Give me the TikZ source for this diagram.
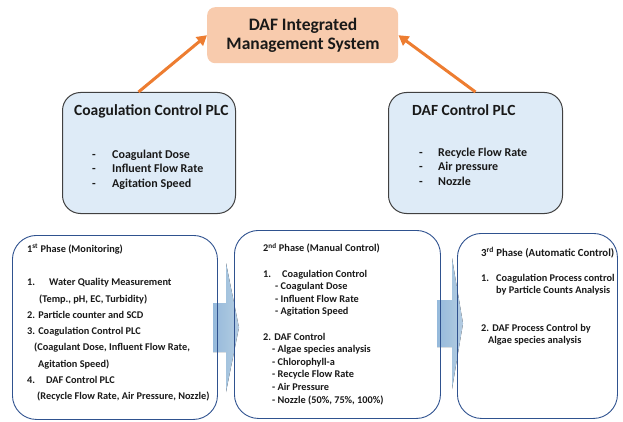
\documentclass[tikz,border=0pt]{standalone}
\usepackage{fontspec}
\setmainfont{Carlito}
\usetikzlibrary{arrows.meta,calc}
\definecolor{peach}{HTML}{F8CBAD}
\definecolor{plcblue}{HTML}{DEEBF7}
\definecolor{plcedge}{HTML}{404040}
\definecolor{phaseedge}{HTML}{2F528F}
\definecolor{orangearr}{HTML}{ED7D31}
\definecolor{arrdark}{HTML}{9DC3E6}
\definecolor{arrlight}{HTML}{BDD7EE}
\newcommand{\topstrut}[1]{\rule{0pt}{#1}}
\tikzset{
  topbox/.style={fill=peach, draw=none, rounded corners=8pt, inner sep=0pt, anchor=north west},
  plcbox/.style={fill=plcblue, draw=plcedge, line width=1pt, rounded corners=18pt, inner sep=0pt, anchor=north west},
  phasebox/.style={draw=phaseedge, line width=0.9pt, rounded corners=24pt, inner sep=0pt, anchor=north west},
  uparrow/.style={draw=orangearr, line width=3pt, -{Triangle[length=10pt,width=11pt]}},
  flowarrow/.style={left color=arrdark, right color=arrlight, draw=none, opacity=0.95},
  txt/.style={font=\bfseries, anchor=base west, inner sep=0pt, align=left, text=black!90},
  blk/.style={font=\bfseries, anchor=north west, inner sep=0pt, align=left, text=black!90}
}
\begin{document}
\begin{tikzpicture}[x=1pt,y=-1pt]
\useasboundingbox (0,0) rectangle (623,422);
% flow arrows (behind boxes)
\fill[flowarrow] (213,303) -- (226,303) -- (226,263) -- (239,327.5) -- (226,392) -- (226,352) -- (213,352) -- cycle;
\fill[flowarrow] (437,300) -- (452,300) -- (452,258) -- (463,323.5) -- (452,389) -- (452,347) -- (437,347) -- cycle;
% top box
\node[topbox, minimum width=191pt, minimum height=56pt] (top) at (207,7) {};
\node[font=\bfseries\fontsize{17.5}{19}\selectfont, align=center, anchor=north, inner sep=0pt, text=black!90] (toptxt) at (303,16) {\topstrut{14pt}DAF Integrated\\Management System};
% PLC boxes
\node[plcbox, minimum width=173pt, minimum height=121pt] (plc1) at (62,92) {};
\node[plcbox, minimum width=174pt, minimum height=121pt] (plc2) at (388,92) {};
\node[txt, font=\bfseries\fontsize{15.5}{18}\selectfont] (plc1t) at (74,116) {Coagulation Control PLC};
\node[blk, font=\bfseries\fontsize{12}{14.5}\selectfont] (plc1d) at (92,148) {\topstrut{10pt}-\\-\\-};
\node[blk, font=\bfseries\fontsize{12}{14.5}\selectfont] (plc1i) at (112,148) {\topstrut{10pt}Coagulant Dose\\Influent Flow Rate\\Agitation Speed};
\node[txt, font=\bfseries\fontsize{15.5}{18}\selectfont] (plc2t) at (412,116) {DAF Control PLC};
\node[blk, font=\bfseries\fontsize{12}{14.5}\selectfont] (plc2d) at (419,146) {\topstrut{10pt}-\\-\\-};
\node[blk, font=\bfseries\fontsize{12}{14.5}\selectfont] (plc2i) at (438,146) {\topstrut{10pt}Recycle Flow Rate\\Air pressure\\Nozzle};
% orange arrows
\draw[uparrow] ($(plc1.north)+(-10.5,0)$) -- (top.west);
\draw[uparrow] (plc2.north) -- (top.east);
% phase boxes
\node[phasebox, minimum width=205pt, minimum height=184pt] (ph1) at (12,235) {};
\node[phasebox, minimum width=206pt, minimum height=188pt] (ph2) at (234,230) {};
\node[phasebox, minimum width=160pt, minimum height=185pt] (ph3) at (457,233) {};
% phase 1 text
\node[txt, font=\bfseries\fontsize{10.3}{12}\selectfont] (ph1t) at (27,252) {1\textsuperscript{st} Phase (Monitoring)};
\node[blk, font=\bfseries\fontsize{10.3}{16.3}\selectfont] (ph1l) at (27,277.5) {%
\topstrut{8pt}\makebox[22pt][l]{1.}Water Quality Measurement\\
\hspace{12pt}(Temp., pH, EC, Turbidity)\\
2. Particle counter and SCD\\
3. Coagulation Control PLC\\
\hspace{7pt}(Coagulant Dose, Influent Flow Rate,\\
\hspace{11pt}Agitation Speed)\\
\makebox[19pt][l]{4.}DAF Control PLC\\
\hspace{10pt}(Recycle Flow Rate, Air Pressure, Nozzle)};
% phase 2 text
\node[blk, font=\bfseries\fontsize{10.3}{12.6}\selectfont] (ph2l) at (263,243) {%
\topstrut{8pt}2\textsuperscript{nd} Phase (Manual Control)\\[12.6pt]
\makebox[19pt][l]{1.}Coagulation Control\\
\hspace{12pt}- Coagulant Dose\\
\hspace{12pt}- Influent Flow Rate\\
\hspace{12pt}- Agitation Speed\\[12.6pt]
2. DAF Control\\
\hspace{9pt}- Algae species analysis\\
\hspace{9pt}- Chlorophyll-a\\
\hspace{9pt}- Recycle Flow Rate\\
\hspace{9pt}- Air Pressure\\
\hspace{9pt}- Nozzle (50\%, 75\%, 100\%)};
% phase 3 text
\node[txt, font=\bfseries\fontsize{10.8}{12}\selectfont] (ph3t) at (481,256) {3\textsuperscript{rd} Phase (Automatic Control)};
\node[blk, font=\bfseries\fontsize{10.3}{12.3}\selectfont] (ph3l) at (481,273) {%
\topstrut{8pt}\makebox[15pt][l]{1.}Coagulation Process control\\
\hspace{15pt}by Particle Counts Analysis\\[25.2pt]
2. DAF Process Control by\\
\hspace{7pt}Algae species analysis};
\end{tikzpicture}
\end{document}
